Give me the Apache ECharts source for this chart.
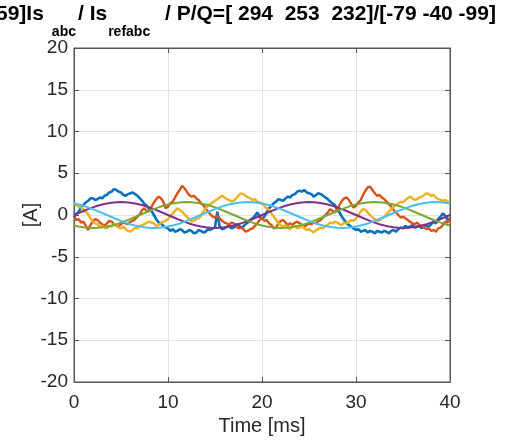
<!DOCTYPE html>
<html>
<head>
<meta charset="utf-8">
<script src="https://cdn.jsdelivr.net/npm/echarts@6/dist/echarts.min.js"></script>
<style>
html,body{margin:0;padding:0;background:#fff;}
#chart{width:506px;height:441px;}
</style>
</head>
<body>
<div id="chart"></div>
<script>
// ---- data ----
const measStep = 0.25; // ms between measured samples
const refStep = 0.5;   // ms between reference samples
const xTicks = [0, 10, 20, 30, 40];
const yTicks = [-20, -15, -10, -5, 0, 5, 10, 15, 20];

const isA = [-0.3,0.1,0.4,0.9,1.2,1.5,1.7,2.0,2.0,1.8,
1.9,2.1,2.0,2.3,2.4,2.7,2.8,3.1,3.0,2.8,
2.7,2.4,2.3,2.5,2.6,2.7,2.5,2.3,2.0,1.7,
1.3,1.1,0.7,0.5,0.0,-0.5,-0.9,-1.0,-1.3,-1.5,
-1.6,-1.9,-1.7,-2.0,-1.9,-1.7,-1.8,-2.1,-2.0,-1.8,
-1.9,-2.2,-2.1,-1.8,-1.9,-2.1,-2.0,-1.7,-1.8,-1.6,
-1.5,0.4,-1.4,-1.7,-1.6,-1.4,-1.3,-1.6,-1.5,-1.1,
-1.2,-1.5,-1.4,-1.1,-0.9,-0.6,-0.4,-0.1,0.3,-0.2,
-0.5,-0.2,0.3,0.8,1.1,1.4,1.6,1.9,1.8,1.7,
2.0,2.2,2.1,2.4,2.5,2.8,2.9,2.8,3.0,2.7,
2.6,2.5,2.2,2.4,2.6,2.5,2.3,2.1,1.9,1.6,
1.4,1.2,0.6,0.3,-0.2,-0.6,-1.0,-1.2,-1.4,-1.6,
-1.8,-1.7,-2.0,-1.9,-1.8,-2.1,-1.9,-2.0,-2.2,-1.9,
-2.0,-2.1,-1.9,-2.0,-2.2,-1.9,-1.8,-2.0,-1.7,-1.5,
-1.6,-1.3,-1.5,-1.4,-1.2,-1.5,-1.4,-1.3,-1.6,-1.2,
-1.3,-1.4,-1.1,-0.8,-1.0,-0.5,-0.2,0.2,-0.1,-0.6,
-0.4];

const isB = [-0.2,-0.6,-0.5,-0.9,-0.8,-1.3,-1.8,-1.2,-0.8,-0.5,
-0.6,-0.9,-1.1,-1.3,-1.0,-0.7,-0.8,-1.1,-1.3,-1.4,
-1.1,-0.9,-1.0,-1.1,-0.8,-0.7,-0.5,-0.2,0.1,0.6,
0.8,0.4,0.5,1.0,1.5,1.9,2.2,2.0,1.6,0.8,
1.0,1.4,1.6,2.1,2.6,3.0,3.5,3.2,2.8,2.4,
2.2,2.3,2.0,1.8,1.4,1.2,0.8,0.4,0.1,-0.2,
-0.3,-0.1,-0.4,-0.7,-0.9,-1.0,-1.2,-0.9,-1.0,-1.4,
-1.6,-1.5,-1.7,-2.0,-1.9,-1.7,-1.6,-1.3,-1.0,-0.6,
-0.3,-0.7,-0.6,-1.0,-1.2,-1.6,-1.5,-1.0,-0.7,-0.6,
-0.9,-1.2,-1.0,-1.2,-0.9,-0.8,-1.0,-1.2,-1.4,-1.2,
-1.0,-1.1,-0.9,-1.0,-0.7,-0.6,-0.3,0.0,0.3,0.7,
0.5,0.3,0.7,1.2,1.7,2.0,2.1,1.8,1.3,0.9,
1.1,1.5,1.8,2.4,2.9,3.3,3.4,3.0,2.6,2.3,
2.4,2.1,1.9,1.6,1.3,1.0,0.6,0.3,0.0,-0.3,
-0.2,-0.4,-0.6,-0.8,-1.0,-1.1,-0.9,-1.2,-1.3,-1.5,
-1.7,-1.6,-1.9,-1.8,-2.0,-1.6,-1.5,-1.2,-0.8,-0.9,
-0.5];

const isC = [1.4,1.2,1.0,0.9,0.7,0.4,0.1,-0.4,-0.8,-1.0,
-1.1,-1.4,-1.3,-1.5,-1.6,-1.3,-1.4,-1.1,-1.2,-1.5,
-1.6,-1.4,-1.7,-1.9,-2.0,-1.8,-1.5,-1.6,-1.3,-1.2,
-1.1,-0.9,-0.8,-0.9,-1.0,-1.3,-1.2,-0.9,-0.8,-0.7,
-0.5,-0.1,0.2,0.5,0.8,0.6,0.4,0.1,-0.2,-0.5,
-0.8,-0.7,-0.5,-0.4,-0.1,0.4,0.8,1.1,1.3,1.5,
1.7,1.9,2.1,2.3,2.1,1.9,1.8,1.6,1.7,2.0,
2.3,2.6,2.5,2.3,2.1,2.0,1.8,1.9,1.6,1.5,
1.4,1.1,0.8,0.6,0.2,-0.2,-0.6,-1.0,-1.2,-1.4,
-1.2,-1.5,-1.7,-1.4,-1.3,-1.6,-1.5,-1.3,-1.6,-1.8,
-1.7,-1.9,-2.1,-1.8,-1.7,-1.5,-1.6,-1.3,-1.2,-0.9,
-1.0,-0.8,-0.9,-1.1,-1.2,-0.9,-1.0,-0.8,-0.6,-0.7,
-0.4,0.0,0.4,0.7,0.6,0.3,0.0,-0.3,-0.5,-0.7,
-0.6,-0.4,-0.2,0.1,0.4,0.7,1.0,1.2,1.4,1.6,
1.5,1.8,2.0,2.2,2.0,1.8,1.9,2.1,2.2,2.4,
2.6,2.5,2.3,2.4,2.1,1.9,1.8,1.7,1.8,1.6,
1.5];

const isRefA = [0,0.24,0.48,0.70,0.91,1.10,1.25,1.38,1.47,1.53,1.55,1.53,1.47,1.38,1.25,1.10,0.91,0.70,0.48,0.24,
0,-0.24,-0.48,-0.70,-0.91,-1.10,-1.25,-1.38,-1.47,-1.53,-1.55,-1.53,-1.47,-1.38,-1.25,-1.10,-0.91,-0.70,-0.48,-0.24,
0,0.24,0.48,0.70,0.91,1.10,1.25,1.38,1.47,1.53,1.55,1.53,1.47,1.38,1.25,1.10,0.91,0.70,0.48,0.24,
0,-0.24,-0.48,-0.70,-0.91,-1.10,-1.25,-1.38,-1.47,-1.53,-1.55,-1.53,-1.47,-1.38,-1.25,-1.10,-0.91,-0.70,-0.48,-0.24,
0];

const isRefB = [-1.25,-1.38,-1.47,-1.53,-1.55,-1.53,-1.47,-1.38,-1.25,-1.10,-0.91,-0.70,-0.48,-0.24,0,0.24,0.48,0.70,0.91,1.10,
1.25,1.38,1.47,1.53,1.55,1.53,1.47,1.38,1.25,1.10,0.91,0.70,0.48,0.24,0,-0.24,-0.48,-0.70,-0.91,-1.10,
-1.25,-1.38,-1.47,-1.53,-1.55,-1.53,-1.47,-1.38,-1.25,-1.10,-0.91,-0.70,-0.48,-0.24,0,0.24,0.48,0.70,0.91,1.10,
1.25,1.38,1.47,1.53,1.55,1.53,1.47,1.38,1.25,1.10,0.91,0.70,0.48,0.24,0,-0.24,-0.48,-0.70,-0.91,-1.10,
-1.25];

const isRefC = [1.38,1.25,1.10,0.91,0.70,0.48,0.24,0,-0.24,-0.48,-0.70,-0.91,-1.10,-1.25,-1.38,-1.47,-1.53,-1.55,-1.53,-1.47,
-1.38,-1.25,-1.10,-0.91,-0.70,-0.48,-0.24,0,0.24,0.48,0.70,0.91,1.10,1.25,1.38,1.47,1.53,1.55,1.53,1.47,
1.38,1.25,1.10,0.91,0.70,0.48,0.24,0,-0.24,-0.48,-0.70,-0.91,-1.10,-1.25,-1.38,-1.47,-1.53,-1.55,-1.53,-1.47,
-1.38,-1.25,-1.10,-0.91,-0.70,-0.48,-0.24,0,0.24,0.48,0.70,0.91,1.10,1.25,1.38,1.47,1.53,1.55,1.53,1.47,
1.38];

const titleMain1 = '59]Is';
const titleSub1 = 'abc';
const titleMain2 = '/ Is';
const titleSub2 = 'refabc';
const titleMain3 = ' / P/Q=[ 294  253  232]/[-79 -40 -99]';
const xName = 'Time [ms]';
const yName = '[A]';

// ---- chart ----
const pairs = (vals, dt) => vals.map((v, i) => [Math.round(i * dt * 100) / 100, v]);
const FONT = '"Liberation Sans", Arial, Helvetica, sans-serif';
const TXT = '#262626';
const AX = '#555555';

const chart = echarts.init(document.getElementById('chart'), null, {renderer: 'canvas'});

function lineSeries(name, vals, dt, color, width) {
  return {
    name, type: 'line', data: pairs(vals, dt), xAxisIndex: 0, yAxisIndex: 0,
    showSymbol: false, symbol: 'none', smooth: false,
    lineStyle: {color, width}, itemStyle: {color},
    emphasis: {disabled: true}, silent: true, animation: false
  };
}

const commonX = {type: 'value', min: xTicks[0], max: xTicks[xTicks.length - 1], interval: 10};
const commonY = {type: 'value', min: yTicks[0], max: yTicks[yTicks.length - 1], interval: 5};

const option = {
  animation: false,
  backgroundColor: '#ffffff',
  grid: {left: 74, right: 56, top: 48, bottom: 59, containLabel: false, outerBoundsMode: 'none',
         show: true, borderColor: AX, borderWidth: 1, backgroundColor: '#ffffff'},
  xAxis: [
    Object.assign({}, commonX, {
      position: 'bottom',
      name: xName, nameLocation: 'middle', nameGap: 34, nameMoveOverlap: false,
      nameTextStyle: {fontFamily: FONT, fontSize: 20, color: TXT},
      axisLine: {show: true, onZero: false, lineStyle: {color: AX, width: 1}},
      axisTick: {show: true, inside: true, length: 5, lineStyle: {color: AX}},
      axisLabel: {show: true, margin: 11, fontFamily: FONT, fontSize: 19, color: TXT, showMinLabel: true, showMaxLabel: true, hideOverlap: false},
      splitLine: {show: true, lineStyle: {color: '#e3e3e3', width: 1}}
    }),
    Object.assign({}, commonX, {
      position: 'top',
      axisLine: {show: true, onZero: false, lineStyle: {color: AX, width: 1}},
      axisTick: {show: true, inside: true, length: 5, lineStyle: {color: AX}},
      axisLabel: {show: false}, splitLine: {show: false}
    })
  ],
  yAxis: [
    Object.assign({}, commonY, {
      position: 'left',
      name: yName, nameLocation: 'middle', nameGap: 33, nameRotate: 90, nameMoveOverlap: false,
      nameTextStyle: {fontFamily: FONT, fontSize: 20, color: TXT},
      axisLine: {show: true, onZero: false, lineStyle: {color: AX, width: 1}},
      axisTick: {show: true, inside: true, length: 5, lineStyle: {color: AX}},
      axisLabel: {show: true, margin: 6, fontFamily: FONT, fontSize: 19, color: TXT, showMinLabel: true, showMaxLabel: true, hideOverlap: false},
      splitLine: {show: true, lineStyle: {color: '#e3e3e3', width: 1}}
    }),
    Object.assign({}, commonY, {
      position: 'right',
      axisLine: {show: true, onZero: false, lineStyle: {color: AX, width: 1}},
      axisTick: {show: true, inside: true, length: 5, lineStyle: {color: AX}},
      axisLabel: {show: false}, splitLine: {show: false}
    })
  ],
  series: [
    lineSeries('Is a', isA, measStep, '#0072BD', 2.6),
    lineSeries('Is b', isB, measStep, '#D95319', 2.4),
    lineSeries('Is c', isC, measStep, '#EDB120', 2.4),
    lineSeries('Is ref a', isRefA, refStep, '#7E2F8E', 2),
    lineSeries('Is ref b', isRefB, refStep, '#77AC30', 2),
    lineSeries('Is ref c', isRefC, refStep, '#4DBEEE', 2)
  ],
  graphic: [{
    type: 'text', left: -4, top: 0, silent: true,
    style: {
      text: '{m|' + titleMain1 + '}{s1|' + titleSub1 + '}{m|' + titleMain2 + '}{s2|' + titleSub2 + '}{m|' + titleMain3 + '}',
      rich: {
        m: {fontFamily: FONT, fontSize: 21, fontWeight: 'bold', fill: '#000', color: '#000', lineHeight: 42, verticalAlign: 'top', padding: [4, 0, 0, 0]},
        s1: {fontFamily: FONT, fontSize: 14, fontWeight: 'bold', fill: '#000', color: '#000', lineHeight: 42, verticalAlign: 'bottom', padding: [0, 2, 3, 8]},
        s2: {fontFamily: FONT, fontSize: 14, fontWeight: 'bold', fill: '#000', color: '#000', lineHeight: 42, verticalAlign: 'bottom', padding: [0, 9, 3, 1]}
      }
    }
  }]
};
chart.setOption(option);
</script>
</body>
</html>
